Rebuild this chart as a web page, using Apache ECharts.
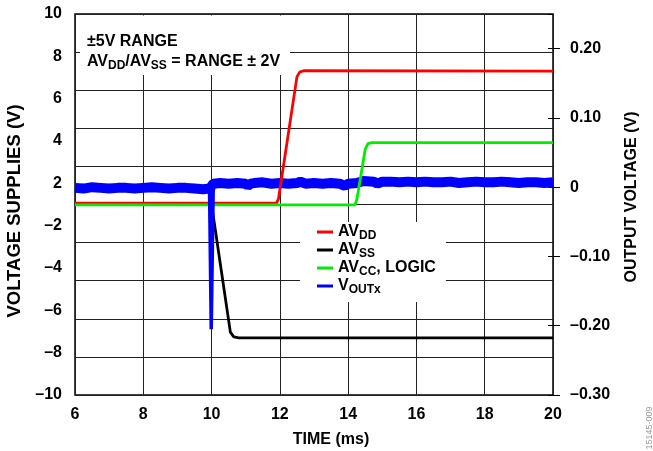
<!DOCTYPE html>
<html><head><meta charset="utf-8">
<script src="https://cdn.jsdelivr.net/npm/echarts@6/dist/echarts.min.js"></script>
<style>html,body{margin:0;padding:0;background:#fff}#c{width:653px;height:451px}</style>
</head><body><div id="c"></div>
<script>
// ---- data ----
const leftTickLabels = ['–10','–8','–6','–4','–2','2','4','6','8','10']; // evenly spaced, bottom to top
const rightTickLabels = ['–0.30','–0.20','–0.10','0','0.10','0.20'];

const avddTime = [6, 11.9, 11.96, 12.5, 12.58, 12.7, 20];
const avddVolt = [0.07, 0.07, 0.3, 6.7, 6.95, 7.02, 7.0];

const avssTime = [6, 10.0, 10.55, 10.65, 10.8, 20];
const avssVolt = [0, 0, -6.7, -6.95, -7.0, -7.0];

const avccTime = [6, 14.2, 14.26, 14.5, 14.58, 14.7, 20];
const avccVolt = [-0.02, -0.02, 0.3, 2.9, 3.2, 3.25, 3.25];

const voutTime = [6.0, 6.25, 6.5, 6.75, 7.0, 7.25, 7.5, 7.75, 8.0, 8.25, 8.5, 8.75, 9.0, 9.25, 9.5, 9.75, 9.95,
  10.05, 10.25, 10.5, 10.75, 11.0, 11.06, 11.15, 11.25, 11.5, 11.75, 12.0, 12.25, 12.5, 12.6, 12.75, 13.0,
  13.25, 13.5, 13.75, 13.9, 14.0, 14.25, 14.45, 14.75, 14.86, 15.0, 15.25, 15.5, 15.75, 16.0, 16.25, 16.5,
  16.75, 17.0, 17.25, 17.5, 17.75, 18.0, 18.25, 18.5, 18.75, 19.0, 19.25, 19.5, 19.75, 20.0];
const voutVolt = [-0.001, -0.002, 0.000, -0.001, -0.002, -0.001, -0.001, -0.002, -0.001, 0.000, -0.001, -0.002, -0.001, -0.001, -0.002, -0.003, -0.002,
  0.005, 0.006, 0.005, 0.006, 0.005, 0.002, 0.005, 0.006, 0.007, 0.005, 0.006, 0.005, 0.006, 0.008, 0.005, 0.006,
  0.005, 0.006, 0.005, 0.002, 0.005, 0.006, 0.009, 0.008, 0.005, 0.008, 0.008, 0.007, 0.008, 0.007, 0.008, 0.007,
  0.007, 0.008, 0.006, 0.007, 0.008, 0.007, 0.007, 0.008, 0.007, 0.006, 0.007, 0.007, 0.006, 0.007];
const spikeTime = [9.94, 9.99, 10.05];
const spikeVolt = [-0.002, -0.205, 0.004];

const zip = (a, b) => a.map((v, i) => [v, b[i]]);
const FF = "'Liberation Sans', Arial, Helvetica, sans-serif";
const font = (s) => 'bold ' + s + 'px ' + FF;

const rich = {
  m: { fontSize: 16, fontWeight: 'bold', fontFamily: FF, color: '#000' },
  s: { fontSize: 12, fontWeight: 'bold', fontFamily: FF, color: '#000', padding: [8, 0, 0, 0] }
};
const legendText = {
  'AVDD': '{m|AV}{s|DD}',
  'AVSS': '{m|AV}{s|SS}',
  'AVCC': '{m|AV}{s|CC}{m|, LOGIC}',
  'VOUTx': '{m|V}{s|OUTx}'
};

const chart = echarts.init(document.getElementById('c'), null, { renderer: 'canvas' });
chart.setOption({
  animation: false,
  backgroundColor: '#fff',
  grid: { left: 75, right: 100, top: 14, bottom: 56, show: true, borderColor: '#000', borderWidth: 1.5, backgroundColor: 'transparent' },
  xAxis: {
    type: 'value', min: 6, max: 20, interval: 2,
    axisLine: { show: false }, axisTick: { show: false },
    axisLabel: { color: '#000', fontSize: 16, fontWeight: 'bold', fontFamily: FF, margin: 12 },
    splitLine: { show: true, lineStyle: { color: '#222', width: 1 } }
  },
  yAxis: [
    { type: 'value', position: 'left', min: -10, max: 10, interval: 2,
      axisLine: { show: false }, axisTick: { show: false }, axisLabel: { show: false },
      splitLine: { show: true, lineStyle: { color: '#222', width: 1 } } },
    { type: 'value', position: 'left', min: 0, max: 9, interval: 1,
      axisLine: { show: false }, axisTick: { show: false }, splitLine: { show: false },
      axisLabel: { color: '#000', fontSize: 16, fontWeight: 'bold', fontFamily: FF, margin: 13,
        formatter: (v) => leftTickLabels[Math.round(v)] || '' } },
    { type: 'value', position: 'right', min: -0.3, max: 0.25, interval: 0.1,
      axisLine: { show: false }, splitLine: { show: false },
      axisTick: { show: true, length: 7, lineStyle: { color: '#000', width: 1 } },
      axisLabel: { color: '#000', fontSize: 16, fontWeight: 'bold', fontFamily: FF, margin: 17, showMaxLabel: false,
        formatter: (v) => { const i = Math.round((v + 0.3) / 0.1); return (Math.abs(v + 0.3 - i * 0.1) < 1e-6 && rightTickLabels[i]) || ''; } } },
    { type: 'value', position: 'right', min: -0.3, max: 0.25, interval: 0.1,
      axisLine: { show: false }, splitLine: { show: false }, axisLabel: { show: false },
      axisTick: { show: true, inside: true, length: 5, lineStyle: { color: '#000', width: 1 } } }
  ],
  legend: {
    orient: 'vertical', left: 300, top: 222, padding: [2, 10, 6, 17],
    backgroundColor: '#fff', itemWidth: 16, itemHeight: 3, itemGap: 0, icon: 'rect',
    data: ['AVDD', 'AVSS', 'AVCC', 'VOUTx'],
    formatter: (n) => legendText[n],
    textStyle: { rich: rich, color: '#000' }
  },
  series: [
    { name: 'VOUTx', type: 'line', yAxisIndex: 2, data: zip(voutTime, voutVolt), symbol: 'none', z: 2,
      lineStyle: { color: '#0000ff', width: 10 }, itemStyle: { color: '#0000ff' } },
    { name: 'AVSS', type: 'line', yAxisIndex: 0, data: zip(avssTime, avssVolt), symbol: 'none', z: 3,
      lineStyle: { color: '#000000', width: 2.8 }, itemStyle: { color: '#000000' } },
    { name: 'AVDD', type: 'line', yAxisIndex: 0, data: zip(avddTime, avddVolt), symbol: 'none', z: 3,
      lineStyle: { color: '#ff0000', width: 2.8 }, itemStyle: { color: '#ff0000' } },
    { name: 'AVCC', type: 'line', yAxisIndex: 0, data: zip(avccTime, avccVolt), symbol: 'none', z: 4,
      lineStyle: { color: '#00ee00', width: 2.8 }, itemStyle: { color: '#00ee00' } },
    { name: 'VOUTx', type: 'line', yAxisIndex: 2, data: zip(spikeTime, spikeVolt), symbol: 'none', z: 5,
      lineStyle: { color: '#0000ff', width: 3.5 }, itemStyle: { color: '#0000ff' } }
  ],
  graphic: [
    { type: 'rect', z: 10, shape: { x: 80, y: 15.5, width: 210, height: 59.5 }, style: { fill: '#fff' } },
    { type: 'text', z: 11, x: 87, y: 42, style: { text: '±5V RANGE', font: font(16), fill: '#000', verticalAlign: 'middle' } },
    { type: 'text', z: 11, x: 87, y: 62, style: { text: '{m|AV}{s|DD}{m|/AV}{s|SS}{m| = RANGE ± 2V}', rich: rich, verticalAlign: 'middle' } },
    { type: 'text', z: 11, x: 331, y: 440, style: { text: 'TIME (ms)', font: font(16), fill: '#000', align: 'center', verticalAlign: 'middle' } },
    { type: 'text', z: 11, x: 15, y: 211, rotation: Math.PI / 2, style: { text: 'VOLTAGE SUPPLIES (V)', font: font(18.5), fill: '#000', align: 'center', verticalAlign: 'middle' } },
    { type: 'text', z: 11, x: 632, y: 197, rotation: Math.PI / 2, style: { text: 'OUTPUT VOLTAGE (V)', font: font(16), fill: '#000', align: 'center', verticalAlign: 'middle' } },
    { type: 'text', z: 11, x: 650, y: 428, rotation: Math.PI / 2, style: { text: '15145-009', font: '9px ' + FF, fill: '#999', align: 'center', verticalAlign: 'middle' } }
  ]
});
</script></body></html>
